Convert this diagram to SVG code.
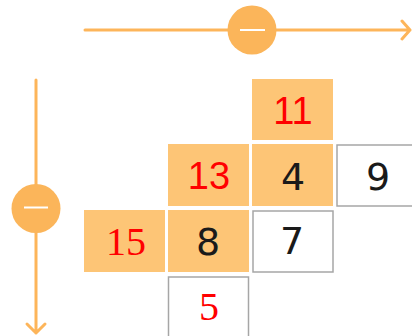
<svg xmlns="http://www.w3.org/2000/svg" width="412" height="336" viewBox="0 0 412 336">
<style>
.f{fill:#FDC576}
.w{fill:#fff;stroke:#a6a6a6;stroke-width:1.5}
.r{fill:#f00;text-anchor:middle}
.b{fill:#1a1a1a;text-anchor:middle;font-family:"DejaVu Sans",sans-serif;font-size:38px}
.s{font-family:"Liberation Sans",sans-serif;font-size:38px}
.t{font-family:"Liberation Serif",serif;font-size:40px}
.ln{stroke:#FDB55A;stroke-width:3;fill:none;stroke-linecap:round;stroke-linejoin:round}
.c{fill:#FBB55A}
.m{stroke:#fff;stroke-width:2}
</style>
<g id="connectors">
<path class="ln" d="M85 30H410M402 21L410 30L402 39"/>
<path class="ln" d="M36 80V333M27 324L36 333L45 324"/>
</g>
<g id="hcircle"><circle class="c" cx="252" cy="30" r="24.5"/><line class="m" x1="240" y1="30" x2="265" y2="30"/></g>
<g id="vcircle"><circle class="c" cx="36" cy="208.5" r="24.5"/><line class="m" x1="24" y1="207.5" x2="48" y2="207.5"/></g>
<g id="n11"><rect class="f" x="252" y="79" width="81" height="61"/><text class="r s" x="293" y="124">11</text></g>
<g id="n13"><rect class="f" x="168" y="144" width="81" height="62"/><text class="r s" x="209" y="189">13</text></g>
<g id="n4"><rect class="f" x="252" y="144" width="81" height="62"/><text class="b" x="293" y="190">4</text></g>
<g id="n9"><rect class="w" x="337" y="145" width="80" height="61"/><text class="b" x="378" y="190">9</text></g>
<g id="n15"><rect class="f" x="84" y="210" width="81" height="62"/><text class="r t" x="126" y="255">15</text></g>
<g id="n8"><rect class="f" x="168" y="210" width="81" height="62"/><text class="b" x="208" y="255">8</text></g>
<g id="n7"><rect class="w" x="253" y="211" width="80" height="61"/><text class="b" x="292" y="254">7</text></g>
<g id="n5"><rect class="w" x="168.5" y="277" width="80" height="65"/><text class="r t" x="209" y="320">5</text></g>
</svg>
